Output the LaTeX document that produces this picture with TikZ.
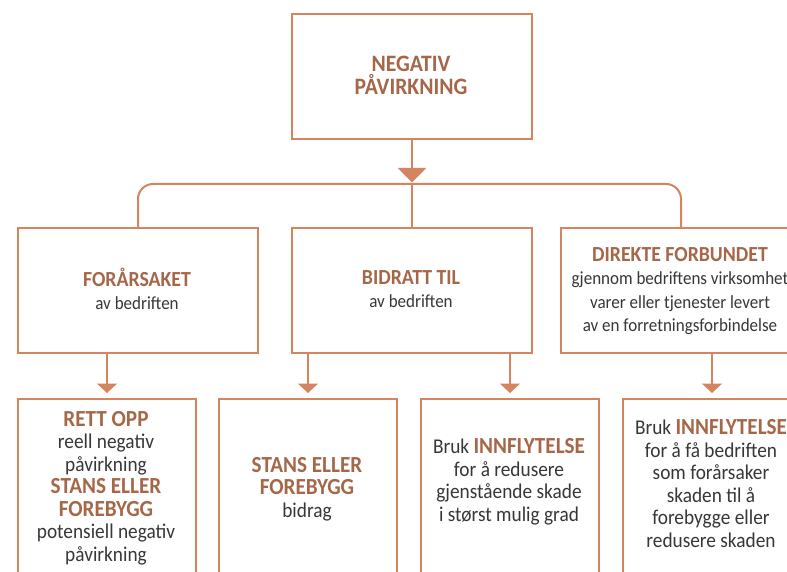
\documentclass[tikz,border=0pt]{standalone}
\usepackage{fontspec}
\setmainfont{Carlito}[FakeStretch=0.92]
\usetikzlibrary{arrows.meta}
\definecolor{ln}{RGB}{212,132,94}
\definecolor{hd}{RGB}{166,102,72}
\definecolor{bd}{RGB}{55,55,55}
\newcommand\hdgA[1]{{\color{hd}\bfseries\fontsize{21.5}{23.5}\selectfont #1}}
\newcommand\hdgB[1]{{\color{hd}\bfseries\fontsize{23}{22.5}\selectfont #1}}
\tikzset{
  box/.style={draw=ln, line width=2pt, rectangle, inner sep=0pt, anchor=north west},
  bigbox/.style={box, minimum width=240pt, minimum height=125pt},
  smallbox/.style={box, minimum width=178pt, minimum height=200pt},
  txt/.style={align=center, text=bd, inner sep=0pt},
  txtA/.style={txt, font=\fontsize{18.5}{23.5}\selectfont},
  txtB/.style={txt, font=\fontsize{21}{22.5}\selectfont},
  conn/.style={draw=ln, line width=2pt},
  arr/.style={conn, -{Triangle[width=20pt,length=9.5pt]}, shorten >=5pt},
}
\begin{document}
\begin{tikzpicture}[x=1pt,y=-1pt]
\useasboundingbox (0,0) rectangle (787,572);
\clip (0,0) rectangle (787,572);
\fill[white] (0,0) rectangle (787,572);
% boxes
\node[bigbox] (top) at (291,13) {};
\node[bigbox] (b1) at (17,227) {};
\node[bigbox] (b2) at (291,227) {};
\node[bigbox] (b3) at (560,227) {};
\node[smallbox] (ra) at (17,398) {};
\node[smallbox] (rb) at (218,398) {};
\node[smallbox] (rc) at (420,398) {};
\node[smallbox] (rd) at (622,398) {};
% texts
\node[txt, font=\fontsize{23.5}{23}\selectfont, text=hd] (t0) at (411,75) {\bfseries NEGATIV\\\bfseries PÅVIRKNING};
\node[txtA] (t1) at (137,289) {\hdgA{FORÅRSAKET}\\av bedriften};
\node[txtA] (t2) at (411,289) {\hdgA{BIDRATT TIL}\\av bedriften};
\node[txtA] (t3) at (680,291) {\hdgA{DIREKTE FORBUNDET}\\gjennom bedriftens virksomhet\\varer eller tjenester levert\\av en forretningsforbindelse};
\node[txtB] (ta) at (106,488) {\hdgB{RETT OPP}\\reell negativ\\påvirkning\\\hdgB{STANS ELLER}\\\hdgB{FOREBYGG}\\potensiell negativ\\påvirkning};
\node[txtB] (tb) at (307,489) {\hdgB{STANS ELLER}\\\hdgB{FOREBYGG}\\bidrag};
\node[txtB] (tc) at (509,482) {Bruk \hdgB{INNFLYTELSE}\\for å redusere\\gjenstående skade\\i størst mulig grad};
\node[txtB] (td) at (711,483.5) {Bruk \hdgB{INNFLYTELSE}\\for å få bedriften\\som forårsaker\\skaden til å\\forebygge eller\\redusere skaden};
% connectors
\coordinate (j) at (top.south |- 0,184);
\draw[conn, -{Triangle[width=28pt,length=14.5pt]}, shorten >=1.5pt] (top.south) -- (j);
\draw[conn, rounded corners=15pt] (b1.north) |- (j) -| (b3.north);
\draw[conn] (j) -- (b2.north);
\draw[arr] (b1.south -| ra.north) -- (ra.north);
\draw[arr] (b2.south -| rb.north) -- (rb.north);
\draw[arr] (b2.south -| rc.north) -- (rc.north);
\draw[arr] (b3.south -| rd.north) -- (rd.north);
\end{tikzpicture}
\end{document}
